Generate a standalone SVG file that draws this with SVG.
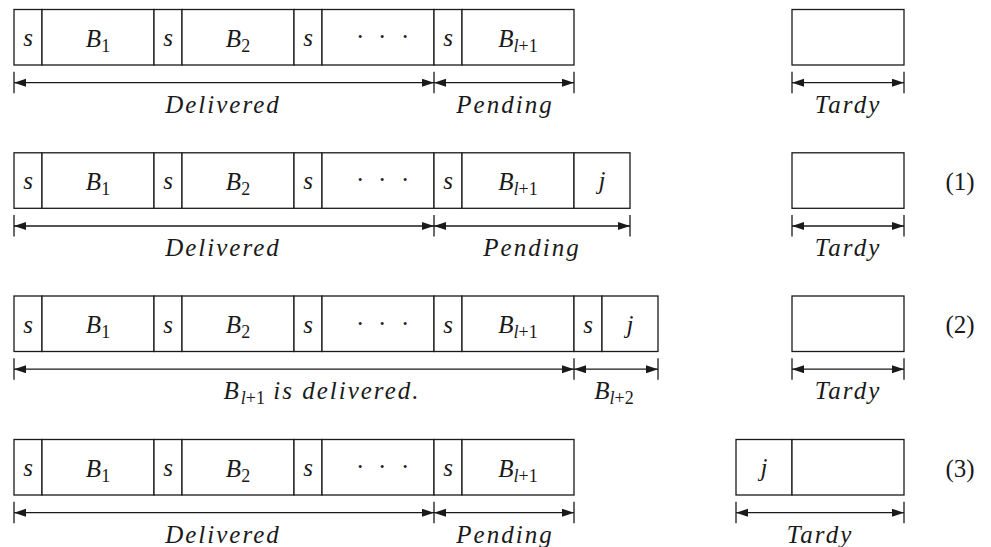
<svg xmlns="http://www.w3.org/2000/svg" width="991" height="547" viewBox="0 0 991 547" font-family="Liberation Serif, serif">
  <style>
    .cell{fill:#fff;stroke:#1a1a1a;stroke-width:1.3}
    .dim{stroke:#1a1a1a;stroke-width:1.3;fill:none}
    .tick{stroke:#1a1a1a;stroke-width:1.3}
    .m{font-style:italic;font-size:25px;fill:#1a1a1a;text-anchor:middle}
    .lbl{letter-spacing:2px}
    .up{font-style:normal}
    .sub{font-size:18px}
  </style>
  <defs>
    <marker id="ah" markerUnits="userSpaceOnUse" markerWidth="13" markerHeight="9" refX="12" refY="4" orient="auto-start-reverse">
      <path d="M0,0 L12,4 L0,8 z" fill="#1a1a1a"/>
    </marker>
    <!-- queue cells shared by all four rows -->
    <g id="base">
      <rect class="cell" x="14" y="9.5" width="28" height="55.5"/>
      <rect class="cell" x="42" y="9.5" width="112" height="55.5"/>
      <rect class="cell" x="154" y="9.5" width="28" height="55.5"/>
      <rect class="cell" x="182" y="9.5" width="112" height="55.5"/>
      <rect class="cell" x="294" y="9.5" width="28" height="55.5"/>
      <rect class="cell" x="322" y="9.5" width="112" height="55.5"/>
      <rect class="cell" x="434" y="9.5" width="28" height="55.5"/>
      <rect class="cell" x="462" y="9.5" width="112" height="55.5"/>
      <text class="m" x="28" y="46">s</text>
      <text class="m" x="98" y="46.7">B<tspan class="sub up" dy="5">1</tspan></text>
      <text class="m" x="168" y="46">s</text>
      <text class="m" x="238" y="46.7">B<tspan class="sub up" dy="5">2</tspan></text>
      <text class="m" x="308" y="46">s</text>
      <text class="m up" x="356 378 401" y="45" style="text-anchor:start">···</text>
      <text class="m" x="448" y="46">s</text>
      <text class="m" x="518" y="46.7">B<tspan class="sub" dy="5">l</tspan><tspan class="sub up">+1</tspan></text>
    </g>
  </defs>

  <!-- row 1: initial state -->
  <g id="row1-queue"><use href="#base"/></g>
  <g id="row1-tardy"><rect class="cell" x="792" y="9.5" width="112" height="55.5"/></g>

  <!-- row 2: job j appended -->
  <g id="row2-queue" transform="translate(0,143.3)">
    <use href="#base"/>
    <rect class="cell" x="574" y="9.5" width="56" height="55.5"/>
    <text class="m" x="602" y="46">j</text>
  </g>
  <g id="row2-tardy" transform="translate(0,143.3)"><rect class="cell" x="792" y="9.5" width="112" height="55.5"/></g>

  <!-- row 3: new batch started -->
  <g id="row3-queue" transform="translate(0,286.5)">
    <use href="#base"/>
    <rect class="cell" x="574" y="9.5" width="28" height="55.5"/>
    <rect class="cell" x="602" y="9.5" width="56" height="55.5"/>
    <text class="m" x="588" y="46">s</text>
    <text class="m" x="630" y="46">j</text>
  </g>
  <g id="row3-tardy" transform="translate(0,286.5)"><rect class="cell" x="792" y="9.5" width="112" height="55.5"/></g>

  <!-- row 4: job j sent to tardy -->
  <g id="row4-queue" transform="translate(0,430)"><use href="#base"/></g>
  <g id="row4-tardy" transform="translate(0,430)">
    <rect class="cell" x="736" y="9.5" width="56" height="55.5"/>
    <rect class="cell" x="792" y="9.5" width="112" height="55.5"/>
    <text class="m" x="764" y="46">j</text>
  </g>

  <!-- dimension arrows -->
  <g id="connectors">
    <g>
      <path class="tick" d="M14,71.7V93.3M434,71.7V93.3M574,71.7V93.3M792,71.7V93.3M904,71.7V93.3"/>
      <path class="dim" d="M14,82.7H434" marker-start="url(#ah)" marker-end="url(#ah)"/>
      <path class="dim" d="M434,82.7H574" marker-start="url(#ah)" marker-end="url(#ah)"/>
      <path class="dim" d="M792,82.7H904" marker-start="url(#ah)" marker-end="url(#ah)"/>
    </g>
    <g transform="translate(0,143.3)">
      <path class="tick" d="M14,71.7V93.3M434,71.7V93.3M630,71.7V93.3M792,71.7V93.3M904,71.7V93.3"/>
      <path class="dim" d="M14,82.7H434" marker-start="url(#ah)" marker-end="url(#ah)"/>
      <path class="dim" d="M434,82.7H630" marker-start="url(#ah)" marker-end="url(#ah)"/>
      <path class="dim" d="M792,82.7H904" marker-start="url(#ah)" marker-end="url(#ah)"/>
    </g>
    <g transform="translate(0,286.5)">
      <path class="tick" d="M14,71.7V93.3M574,71.7V93.3M658,71.7V93.3M792,71.7V93.3M904,71.7V93.3"/>
      <path class="dim" d="M14,82.7H574" marker-start="url(#ah)" marker-end="url(#ah)"/>
      <path class="dim" d="M574,82.7H658" marker-start="url(#ah)" marker-end="url(#ah)"/>
      <path class="dim" d="M792,82.7H904" marker-start="url(#ah)" marker-end="url(#ah)"/>
    </g>
    <g transform="translate(0,430)">
      <path class="tick" d="M14,71.7V93.3M434,71.7V93.3M574,71.7V93.3M736,71.7V93.3M904,71.7V93.3"/>
      <path class="dim" d="M14,82.7H434" marker-start="url(#ah)" marker-end="url(#ah)"/>
      <path class="dim" d="M434,82.7H574" marker-start="url(#ah)" marker-end="url(#ah)"/>
      <path class="dim" d="M736,82.7H904" marker-start="url(#ah)" marker-end="url(#ah)"/>
    </g>
  </g>

  <!-- span labels -->
  <g id="labels">
    <text class="m lbl" x="223" y="112.7">Delivered</text>
    <text class="m lbl" x="505" y="112.7">Pending</text>
    <text class="m lbl" x="848" y="112.7">Tardy</text>

    <text class="m lbl" x="223" y="256">Delivered</text>
    <text class="m lbl" x="532" y="256">Pending</text>
    <text class="m lbl" x="848" y="256">Tardy</text>

    <text class="m lbl" x="322" y="399.2">B<tspan class="sub" dy="5" style="letter-spacing:0">l</tspan><tspan class="sub up" style="letter-spacing:0">+1</tspan><tspan dy="-5"> is delivered.</tspan></text>
    <text class="m" x="614" y="399.2">B<tspan class="sub" dy="5">l</tspan><tspan class="sub up">+2</tspan></text>
    <text class="m lbl" x="848" y="399.2">Tardy</text>

    <text class="m lbl" x="223" y="542.7">Delivered</text>
    <text class="m lbl" x="505" y="542.7">Pending</text>
    <text class="m lbl" x="820" y="542.7">Tardy</text>

    <text class="m up" x="960" y="190">(1)</text>
    <text class="m up" x="960" y="333.2">(2)</text>
    <text class="m up" x="960" y="476.7">(3)</text>
  </g>
</svg>
